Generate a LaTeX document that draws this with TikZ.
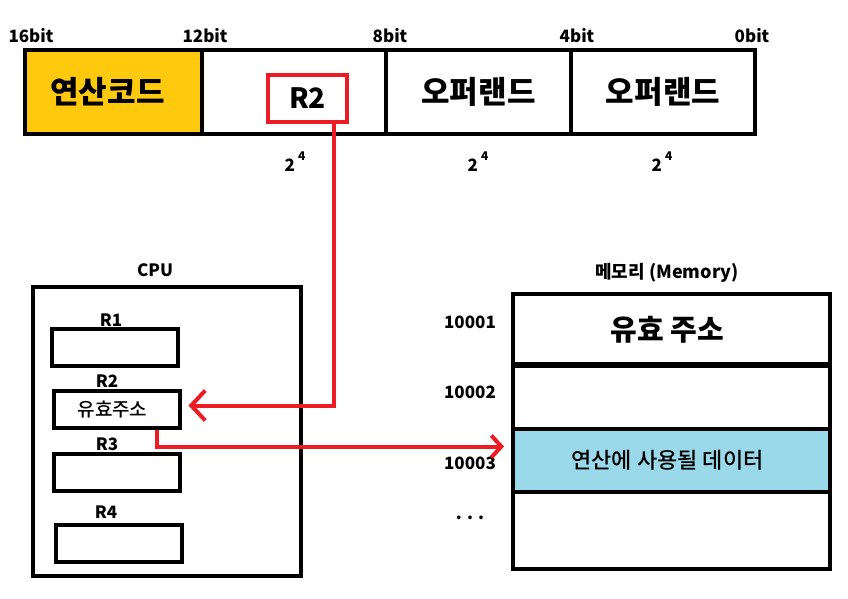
\documentclass[tikz,border=0pt]{standalone}
\usepackage{fontspec}
\setmainfont{Noto Sans CJK KR}
\newfontfamily\krmedium{Noto Sans CJK KR Medium}
\usetikzlibrary{arrows.meta,positioning}

\definecolor{opyellow}{HTML}{FFC90E}
\definecolor{datablue}{HTML}{99D9EA}
\definecolor{linkred}{HTML}{ED1C24}

\begin{document}
\begin{tikzpicture}[x=1pt,y=-1pt,
    every node/.style={font=\bfseries\fontsize{17}{20}\selectfont},
    field/.style={draw, line width=4pt, minimum height=84pt, inner sep=0pt,
      font=\bfseries\fontsize{31}{34}\selectfont},
    regbox/.style={draw, line width=4pt, minimum width=126pt, minimum height=37pt,
      inner sep=0pt, font=\krmedium\fontsize{19}{22}\selectfont},
    memrow/.style={draw, line width=4pt, minimum width=317pt, inner sep=0pt},
    link/.style={linkred, line width=4pt, -{Straight Barb[length=14pt,width=30pt]}}]
  \useasboundingbox (0,0) rectangle (848,599);

  % Instruction format
  \node[field, fill=opyellow, minimum width=177pt] (opcode) at (113.5,92) {\hspace*{-12pt}연산코드};
  \node[field, minimum width=184pt] (regfield) at (294,92) {};
  \node[field, minimum width=185pt] (operand1) at (478.5,92) {오퍼랜드};
  \node[field, minimum width=184pt] (operand2) at (663,92) {오퍼랜드};
  \node[draw=linkred, line width=4pt, minimum width=79pt, minimum height=47pt,
    inner sep=0pt, font=\bfseries\fontsize{28}{30}\selectfont] (rbox) at (307.5,98.5) {R2\hspace{19pt}};

  % Bit positions
  \node (b16) at (31,36) {16bit};
  \node (b12) at (205,36) {12bit};
  \node (b8) at (390,36) {8bit};
  \node (b4) at (577,36) {4bit};
  \node (b0) at (752,36) {0bit};

  % Field sizes
  \foreach \i/\x in {1/295,2/478,3/662}
    \node (size\i) at (\x,162) {2\hspace{3pt}\raisebox{11pt}{\fontsize{12}{12}\selectfont 4}};

  % CPU with registers
  \node[draw, line width=4pt, minimum width=268pt, minimum height=289pt] (cpu) at (167,431.5) {};
  \node (cpulabel) at (155,270) {CPU};
  \node[regbox] (r1) at (115,347.5) {};
  \node[regbox] (r2) at (116.5,409.5) {\hspace*{-8pt}유효주소};
  \node[regbox] (r3) at (116.5,472.5) {};
  \node[regbox] (r4) at (118.5,543.5) {};
  \node (r1label) at (111,320) {R1};
  \node (r2label) at (107,381) {R2};
  \node (r3label) at (107,444) {R3};
  \node (r4label) at (106,512) {R4};

  % Memory
  \node[font=\bfseries\fontsize{18}{20}\selectfont] (memlabel) at (667,273) {메모리 (Memory)};
  \node[memrow, minimum height=72pt, font=\bfseries\fontsize{29}{32}\selectfont] (m1) at (671.5,330) {\hspace*{-8pt}유효 주소};
  \node[memrow, minimum height=65pt] (m2) at (671.5,396.5) {};
  \node[memrow, minimum height=63pt, fill=datablue, font=\krmedium\fontsize{22}{26}\selectfont] (m3) at (671.5,460.5) {\hspace*{-8pt}연산에 사용될 데이터};
  \node[memrow, minimum height=77pt] (m4) at (671.5,530.5) {};
  \node (a1) at (470,322) {10001};
  \node (a2) at (470,392) {10002};
  \node (a3) at (470,463) {10003};
  \node (a4) at (470,518) {. . .};

  % Red connectors
  \draw[link] ([xshift=26.5pt]rbox.south) |- ([xshift=7pt,yshift=4pt]r2.east);
  \draw[link, -{Straight Barb[length=10pt,width=22pt]}] ([xshift=40pt]r2.south) |- ([xshift=-7pt,yshift=14pt]m3.west);
\end{tikzpicture}
\end{document}
